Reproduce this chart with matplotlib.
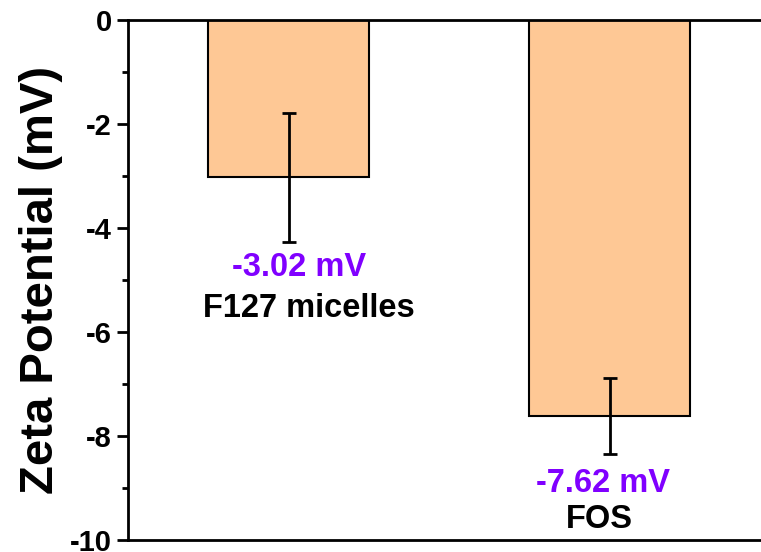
import matplotlib.pyplot as plt
import numpy as np
from matplotlib.ticker import MultipleLocator

# zeta potential data
samples = ["F127 micelles", "FOS"]
zeta_mean = [-3.02, -7.62]
zeta_err = [1.24, 0.73]
value_labels = ["-3.02 mV", "-7.62 mV"]


def main():
    plt.rcParams["font.family"] = ["Liberation Sans", "DejaVu Sans"]
    plt.rcParams["font.weight"] = "bold"
    plt.rcParams["axes.unicode_minus"] = False

    fig = plt.figure(figsize=(7.61, 5.52), dpi=100)
    ax = fig.add_axes([128 / 761, 12 / 552, 642 / 761, 520 / 552])

    x_pos = np.arange(1, len(samples) + 1)
    ax.bar(x_pos, zeta_mean, width=0.5, color="#FEC895",
           edgecolor="black", linewidth=1.5, zorder=2)
    ax.errorbar(x_pos, zeta_mean, yerr=zeta_err, fmt="none", ecolor="black",
                elinewidth=2, capsize=5, capthick=2, zorder=3)

    # value and sample labels under the bars
    value_xy = [(1.034, -4.75), (1.98, -8.92)]
    name_xy = [(1.062, -5.54), (1.97, -9.6)]
    for (vx, vy), txt in zip(value_xy, value_labels):
        ax.text(vx, vy, txt, color="#8000FF", fontsize=23.5, fontweight="bold",
                ha="center", va="center")
    for (nx, ny), txt in zip(name_xy, samples):
        ax.text(nx, ny, txt, color="black", fontsize=23.5, fontweight="bold",
                ha="center", va="center")

    ax.set_xlim(0.5, 2.5)
    ax.set_ylim(-10, 0)
    ax.yaxis.set_major_locator(MultipleLocator(2))
    ax.yaxis.set_minor_locator(MultipleLocator(1))
    ax.tick_params(axis="y", which="major", length=8, width=2,
                   labelsize=21, direction="out")
    ax.tick_params(axis="y", which="minor", length=4, width=2, direction="out")
    ax.set_xticks([])
    for lab in ax.get_yticklabels():
        lab.set_fontweight("bold")

    ax.set_ylabel("Zeta Potential (mV)", fontsize=34, fontweight="bold",
                  labelpad=5)

    ax.spines["right"].set_visible(False)
    for side in ["left", "top", "bottom"]:
        ax.spines[side].set_linewidth(2)

    fig.savefig("out.png", dpi=100)


if __name__ == "__main__":
    main()
